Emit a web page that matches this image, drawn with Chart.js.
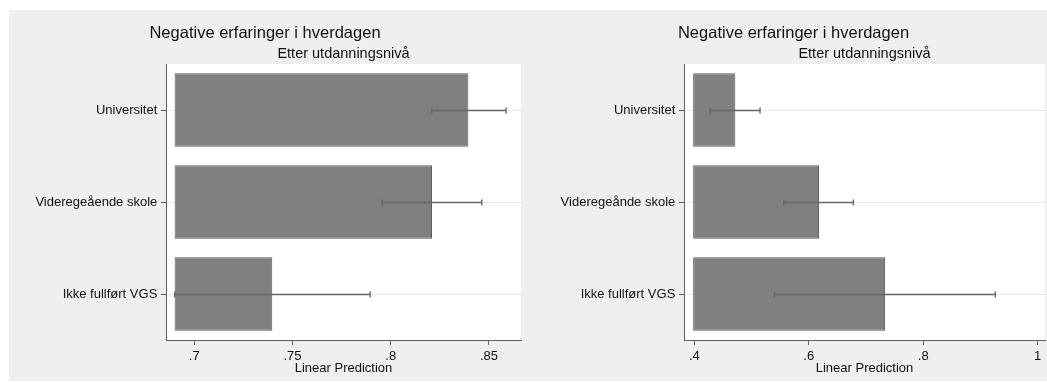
<!DOCTYPE html>
<html>
<head>
<meta charset="utf-8">
<title>Negative erfaringer i hverdagen</title>
<script src="https://cdn.jsdelivr.net/npm/chart.js@4.4.1/dist/chart.umd.min.js"></script>
<style>
  html, body { margin: 0; padding: 0; background: #fff; }
  body { width: 1047px; height: 383px; position: relative; overflow: hidden; }
  #backdrop { position: absolute; left: 9px; top: 10px; width: 1038px; height: 371px; background: #efefef; }
  #leftChart  { position: absolute; left: 9px;   top: 10px; }
  #rightChart { position: absolute; left: 542px; top: 10px; }
</style>
</head>
<body>
<div id="backdrop"></div>
<canvas id="leftChart" width="518" height="371"></canvas>
<canvas id="rightChart" width="505" height="371"></canvas>
<script>
'use strict';

// Margins by education level, two models
const leftCategories  = ['Universitet', 'Videregeående skole', 'Ikke fullført VGS'];
const leftValues      = [0.8395, 0.8210, 0.7397];
const leftLow         = [0.8209, 0.7957, 0.6900];
const leftHigh        = [0.8587, 0.8463, 0.7895];
const leftTicks       = [0.7, 0.75, 0.8, 0.85];

const rightCategories = ['Universitet', 'Videregeånde skole', 'Ikke fullført VGS'];
const rightValues     = [0.4717, 0.6180, 0.7334];
const rightLow        = [0.4280, 0.5566, 0.5400];
const rightHigh       = [0.5149, 0.6780, 0.9260];
const rightTicks      = [0.4, 0.6, 0.8, 1];

const TITLE    = 'Negative erfaringer i hverdagen';
const SUBTITLE = 'Etter utdanningsnivå';
const X_TITLE  = 'Linear Prediction';

const FONT = '"Liberation Sans", Arial, sans-serif';
const AXIS_COLOR = '#5f5f5f';

Chart.defaults.font.family = FONT;
Chart.defaults.color = '#111';

// white plot region behind grid and bars
const plotBackground = {
  id: 'plotBackground',
  beforeDraw(chart) {
    const { ctx, chartArea: a } = chart;
    ctx.save();
    ctx.fillStyle = '#fff';
    ctx.fillRect(a.left, a.top, a.right - a.left, a.bottom - a.top);
    ctx.restore();
  },
};

// confidence intervals drawn on top of the bars
const errorBars = {
  id: 'errorBars',
  afterDatasetsDraw(chart, args, opts) {
    const { ctx } = chart;
    const xs = chart.scales.x;
    const meta = chart.getDatasetMeta(0);
    ctx.save();
    ctx.strokeStyle = opts.color;
    ctx.lineWidth = opts.width;
    meta.data.forEach((bar, i) => {
      const x0 = xs.getPixelForValue(opts.low[i]);
      const x1 = xs.getPixelForValue(opts.high[i]);
      const y = Math.round(bar.y) + 0.5;
      ctx.beginPath();
      ctx.moveTo(x0, y);
      ctx.lineTo(x1, y);
      ctx.moveTo(x0, y - opts.cap);
      ctx.lineTo(x0, y + opts.cap);
      ctx.moveTo(x1, y - opts.cap);
      ctx.lineTo(x1, y + opts.cap);
      ctx.stroke();
    });
    ctx.restore();
  },
};

const fmtTick = v => String(v).replace(/^0\./, '.');

function buildPanel(canvasId, cfg) {
  return new Chart(document.getElementById(canvasId), {
    type: 'bar',
    data: {
      labels: cfg.categories,
      datasets: [{
        data: cfg.values,
        base: cfg.base,
        backgroundColor: '#808080',
        borderColor: '#5c5c5c',
        borderWidth: 1,
        borderSkipped: false,
        barPercentage: 0.797,
        categoryPercentage: 1,
      }],
    },
    options: {
      indexAxis: 'y',
      responsive: false,
      animation: false,
      events: [],
      layout: { padding: { left: 0, right: cfg.padRight, top: 0, bottom: 0 } },
      plugins: {
        legend: { display: false },
        tooltip: { enabled: false },
        title: {
          display: true,
          text: TITLE,
          color: '#111',
          font: { size: 16.5, weight: 'normal' },
          padding: { top: 13.9, bottom: 1.6 },
        },
        subtitle: {
          display: true,
          text: SUBTITLE,
          fullSize: false,
          color: '#111',
          font: { size: 14.5 },
          padding: { top: 0, bottom: 1.3 },
        },
        errorBars: { low: cfg.low, high: cfg.high, color: '#666', width: 1.4, cap: 3 },
      },
      scales: {
        x: {
          type: 'linear',
          min: cfg.min,
          max: cfg.max,
          afterBuildTicks: axis => { axis.ticks = cfg.ticks.map(value => ({ value })); },
          afterFit: axis => { axis.height = 41; },
          ticks: {
            callback: fmtTick,
            padding: 4,
            font: { size: 13 },
            color: '#111',
            maxRotation: 0,
          },
          grid: { drawOnChartArea: false, drawTicks: true, tickLength: 5, tickColor: AXIS_COLOR },
          border: { display: true, color: AXIS_COLOR, width: 1 },
          title: {
            display: true,
            text: X_TITLE,
            color: '#111',
            font: { size: 13 },
            padding: { top: 0, bottom: 4.4 },
          },
        },
        y: {
          type: 'category',
          offset: true,
          afterFit: axis => { axis.width = cfg.yWidth; },
          ticks: { padding: 3.7, font: { size: 13 }, color: '#111' },
          grid: {
            offset: false,
            color: '#e9e9e9',
            lineWidth: 1,
            drawTicks: true,
            tickLength: 5,
            tickColor: AXIS_COLOR,
          },
          border: { display: true, color: AXIS_COLOR, width: 1 },
        },
      },
    },
    plugins: [plotBackground, errorBars],
  });
}

buildPanel('leftChart', {
  categories: leftCategories,
  values: leftValues,
  low: leftLow,
  high: leftHigh,
  ticks: leftTicks,
  base: 0.69,
  min: 0.6856,
  max: 0.8663,
  yWidth: 157,
  padRight: 6,
});

buildPanel('rightChart', {
  categories: rightCategories,
  values: rightValues,
  low: rightLow,
  high: rightHigh,
  ticks: rightTicks,
  base: 0.398,
  min: 0.382,
  max: 1.0128,
  yWidth: 142,
  padRight: 2,
});
</script>
</body>
</html>
